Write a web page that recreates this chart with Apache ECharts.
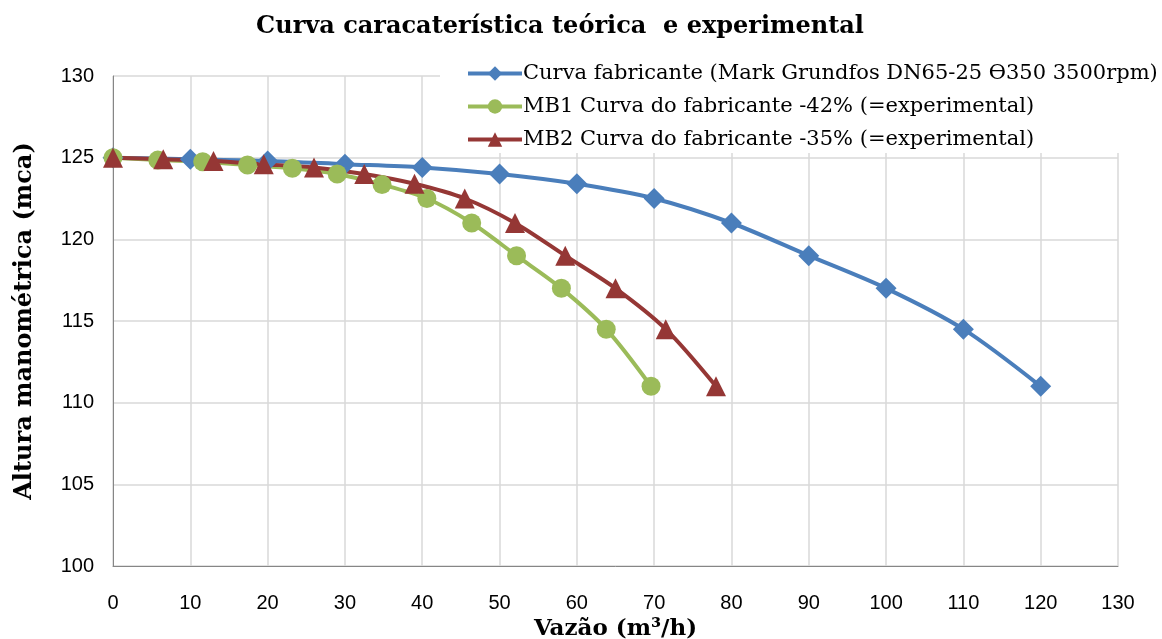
<!DOCTYPE html>
<html>
<head>
<meta charset="utf-8">
<script src="https://cdn.jsdelivr.net/npm/echarts@6/dist/echarts.min.js"></script>
<style>
  html, body { margin: 0; padding: 0; background: #fff; }
  #chart { width: 1162px; height: 639px; }
</style>
</head>
<body>
<div id="chart"></div>
<script>
// Pump head curves: manufacturer curve and two reduced-flow experimental curves
const seriesNames = [
  'Curva fabricante (Mark Grundfos DN65-25 \u03F4350 3500rpm)',
  'MB1 Curva do fabricante -42% (=experimental)',
  'MB2 Curva do fabricante -35% (=experimental)'
];

// Flow (m3/h)
const flowFabricante = [0, 10, 20, 30, 40, 50, 60, 70, 80, 90, 100, 110, 120];
const flowMB1 = [0, 5.8, 11.6, 17.4, 23.2, 29, 34.8, 40.6, 46.4, 52.2, 58, 63.8, 69.6];
const flowMB2 = [0, 6.5, 13, 19.5, 26, 32.5, 39, 45.5, 52, 58.5, 65, 71.5, 78];

// Head (mca)
const headFabricante = [125, 124.9, 124.8, 124.6, 124.4, 124, 123.4, 122.5, 121, 119, 117, 114.5, 111];
const headMB1 = [125, 124.85, 124.75, 124.55, 124.35, 124, 123.35, 122.5, 121, 119, 117, 114.5, 111];
const headMB2 = [125, 124.9, 124.8, 124.6, 124.4, 124, 123.4, 122.5, 121, 119, 117, 114.5, 111];

const xTicks = { min: 0, max: 130, interval: 10 };
const yTicks = { min: 100, max: 130, interval: 5 };

const pairs = (xs, ys) => xs.map((x, i) => [x, ys[i]]);

const colors = ['#4a7ebb', '#9bbb59', '#953735'];
const tickFont = 'Liberation Sans, Arial, sans-serif';
const serif = 'DejaVu Serif, Liberation Serif, serif';

const chart = echarts.init(document.getElementById('chart'), null, { renderer: 'canvas' });

function lineSeries(name, data, color, symbol, size) {
  return {
    name: name,
    type: 'line',
    data: data,
    smooth: 0.3,
    symbol: symbol,
    symbolSize: size,
    showAllSymbol: true,
    lineStyle: { color: color, width: 4 },
    itemStyle: { color: color },
    emphasis: { disabled: true },
    animation: false
  };
}

chart.setOption({
  backgroundColor: '#fff',
  animation: false,
  title: {
    text: 'Curva caracaterística teórica  e experimental',
    left: 555,
    textAlign: 'center',
    top: 10,
    textStyle: { fontFamily: serif, fontWeight: 'bold', fontSize: 24, color: '#000' }
  },
  legend: {
    orient: 'vertical',
    left: 440,
    top: 58,
    itemWidth: 54,
    itemHeight: 18,
    itemGap: 12,
    padding: [5, 8, 3, 26],
    backgroundColor: '#fff',
    lineStyle: { width: 4 },
    textStyle: { fontFamily: serif, fontSize: 21, color: '#000', padding: [0, 0, 0, -4] },
    data: seriesNames
  },
  grid: { left: 113, right: 44, top: 76, bottom: 73, containLabel: false, outerBoundsMode: 'none' },
  xAxis: {
    type: 'value',
    min: xTicks.min, max: xTicks.max, interval: xTicks.interval,
    name: 'Vazão (m³/h)',
    nameLocation: 'middle',
    nameGap: 45,
    nameTextStyle: { fontFamily: serif, fontWeight: 'bold', fontSize: 23, color: '#000' },
    axisLine: { show: true, lineStyle: { color: '#868686', width: 1 } },
    axisTick: { show: false },
    axisLabel: { fontFamily: tickFont, fontSize: 20, color: '#000', margin: 27 },
    splitLine: { show: true, lineStyle: { color: '#d9d9d9', width: 1.5 } }
  },
  yAxis: {
    type: 'value',
    min: yTicks.min, max: yTicks.max, interval: yTicks.interval,
    name: 'Altura manométrica (mca)',
    nameLocation: 'middle',
    nameGap: 76,
    nameRotate: 90,
    nameTextStyle: { fontFamily: serif, fontWeight: 'bold', fontSize: 24, color: '#000' },
    axisLine: { show: true, lineStyle: { color: '#868686', width: 1 } },
    axisTick: { show: false },
    axisLabel: { fontFamily: tickFont, fontSize: 20, color: '#000', margin: 19 },
    splitLine: { show: true, lineStyle: { color: '#d9d9d9', width: 1.5 } }
  },
  series: [
    lineSeries(seriesNames[0], pairs(flowFabricante, headFabricante), colors[0], 'diamond', 21),
    lineSeries(seriesNames[1], pairs(flowMB1, headMB1), colors[1], 'circle', 19),
    lineSeries(seriesNames[2], pairs(flowMB2, headMB2), colors[2], 'triangle', 20)
  ]
});
</script>
</body>
</html>
